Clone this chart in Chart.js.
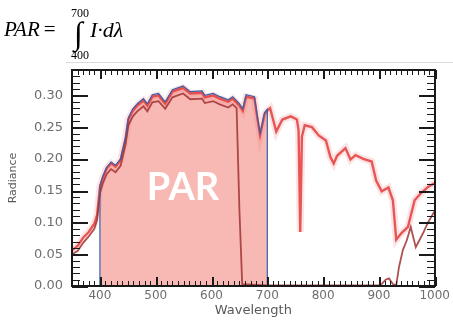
<!DOCTYPE html>
<html>
<head>
<meta charset="utf-8">
<script src="https://cdn.jsdelivr.net/npm/chart.js@4"></script>
<style>
  body { margin: 0; background: #fff; }
  #wrap { position: relative; width: 453px; height: 324px; }
  canvas { position: absolute; left: 0; top: 0; }
  .f { position: absolute; font-family: "Liberation Serif", "Times New Roman", serif; color: #000; line-height: 1; white-space: nowrap; }
  .it { font-style: italic; }
  .edge { position: absolute; left: 66px; top: 62px; width: 387px; height: 1px; background: #dcdcdc; }
</style>
</head>
<body>
<div id="wrap">
  <canvas id="parChart" width="453" height="324"></canvas>
  <div class="edge"></div>
  <div class="f it" style="left:4px; top:19px; font-size:21px;">PAR<span style="font-style:normal; margin-left:4px">=</span></div>
  <div class="f" style="left:71px; top:7px; font-size:12px;">700</div>
  <div class="f" style="left:74px; top:17px; font-size:32px;">&#8747;</div>
  <div class="f" style="left:71px; top:49px; font-size:12px;">400</div>
  <div class="f it" style="left:90px; top:19px; font-size:22px;">I&middot;d&lambda;</div>
</div>
<script>
// tick labels
var xTicks = [400, 500, 600, 700, 800, 900, 1000];
var yTicks = [0.00, 0.05, 0.10, 0.15, 0.20, 0.25, 0.30];

// measured radiance (light red curve)
var mainNm = [350,360,370,380,390,395,400,405,412,420,428,437,446,451,459,467,478,485,494,505,517,530,549,562,583,588,603,615,630,638,650,656,662,677,682,687,695,700,705,716,727,742,753,756,759,762,767,780,792,805,813,819,825,840,849,858,872,887,895,905,917,925,931,940,952,964,975,988,1000];
var mainVal = [0.056,0.063,0.076,0.085,0.098,0.112,0.155,0.170,0.185,0.193,0.188,0.198,0.232,0.262,0.276,0.284,0.292,0.284,0.298,0.300,0.287,0.306,0.312,0.303,0.304,0.297,0.300,0.295,0.290,0.295,0.284,0.276,0.298,0.295,0.265,0.238,0.270,0.276,0.280,0.243,0.262,0.267,0.262,0.245,0.085,0.235,0.253,0.250,0.237,0.229,0.203,0.193,0.205,0.217,0.199,0.206,0.200,0.196,0.166,0.149,0.155,0.135,0.073,0.083,0.093,0.135,0.146,0.156,0.162];

// second (dark red) curve
var darkNm = [350,360,370,380,390,395,400,405,412,420,428,437,446,451,459,467,478,485,494,505,517,530,549,562,583,588,603,615,630,638,645,650,655,700,800,900,905,912,918,925,931,936,943,950,957,966,979,988,1000];
var darkVal = [0.050,0.055,0.068,0.078,0.090,0.104,0.146,0.161,0.176,0.184,0.179,0.189,0.223,0.253,0.267,0.275,0.283,0.275,0.289,0.291,0.279,0.297,0.303,0.294,0.295,0.288,0.291,0.286,0.281,0.286,0.280,0.120,0.003,0.001,0.001,0.001,0.003,0.010,0.012,0.003,0.001,0.030,0.057,0.072,0.093,0.061,0.083,0.100,0.118];

// PAR region outline 400-700 nm
var parNm = [400,400,405,412,420,428,437,446,451,459,467,478,485,494,505,517,530,549,562,583,588,603,615,630,638,650,656,662,677,682,687,695,700,700];
var parVal = [0,0.158,0.172,0.187,0.195,0.190,0.200,0.234,0.265,0.279,0.287,0.295,0.287,0.301,0.303,0.290,0.309,0.315,0.306,0.307,0.300,0.303,0.298,0.293,0.298,0.287,0.279,0.301,0.298,0.268,0.240,0.273,0.278,0];

function pts(xs, ys) {
    return xs.map(function (x, i) { return {x: x, y: ys[i]}; });
}

var parOutline = pts(parNm, parVal);
parOutline.push({x: 400, y: 0});

// frame, inward major/minor ticks on all four sides
var framePlugin = {
    id: 'frame',
    afterDatasetsDraw: function (chart) {
        var c = chart.ctx, a = chart.chartArea;
        var xs = chart.scales.x, ys = chart.scales.y;
        c.save();
        c.setLineDash([]);
        c.globalAlpha = 1;
        c.fillStyle = '#fff';
        c.font = 'bold 38px Lato, "Open Sans", sans-serif';
        c.textAlign = 'center';
        c.textBaseline = 'alphabetic';
        c.fillText('PAR', xs.getPixelForValue(549), ys.getPixelForValue(0.135));

        var L = Math.round(a.left), R = Math.round(a.right), T = Math.round(a.top), B = Math.round(a.bottom);
        c.fillStyle = '#1a1a1a';
        for (var w = 350; w <= 1000; w += 10) {
            var px = Math.round(xs.getPixelForValue(w));
            var major = (w % 100 === 0);
            var len = major ? 9 : 5;
            var tw = major ? 2 : 1;
            c.fillRect(px, B - len, tw, len);
            c.fillRect(px, T, tw, len);
        }
        for (var k = 0; k <= 34; k++) {
            var py = Math.round(ys.getPixelForValue(k / 100));
            var ymaj = (k % 5 === 0);
            var l2 = ymaj ? 16 : 8;
            var th = ymaj ? 2 : 1;
            c.fillRect(L, py, l2, th);
            c.fillRect(R - l2, py, l2, th);
        }
        c.fillRect(L - 1, T - 1, R - L + 2, 2);
        c.fillRect(L - 1, B - 1, R - L + 2, 2);
        c.fillRect(L - 1, T - 1, 2, B - T + 2);
        c.fillRect(R - 1, T - 1, 2, B - T + 2);
        c.restore();
    }
};

var ctx = document.getElementById('parChart').getContext('2d');
var parChart = new Chart(ctx, {
    type: 'line',
    data: {
        datasets: [{
            // blue outline of PAR area
            data: parOutline,
            borderColor: 'rgb(55,95,170)',
            borderWidth: 1.2,
            pointRadius: 0,
            fill: false,
            order: 0
        }, {
            data: pts(darkNm, darkVal),
            borderColor: 'rgba(160,50,50,0.85)',
            borderWidth: 1.8,
            pointRadius: 0,
            fill: false,
            order: 1
        }, {
            data: pts(mainNm, mainVal),
            borderColor: 'rgba(228,60,60,0.85)',
            borderWidth: 2.4,
            pointRadius: 0,
            fill: false,
            order: 2
        }, {
            // soft halo round the red curve
            data: pts(mainNm, mainVal),
            borderColor: 'rgba(240,120,120,0.2)',
            borderWidth: 7,
            pointRadius: 0,
            fill: false,
            order: 3
        }, {
            data: pts(parNm, parVal),
            borderWidth: 0,
            borderColor: 'rgba(0,0,0,0)',
            backgroundColor: '#f8b8b3',
            pointRadius: 0,
            fill: 'origin',
            order: 4
        }]
    },
    options: {
        responsive: false,
        animation: false,
        layout: { padding: { top: 70, right: 17, left: 0, bottom: 0 } },
        plugins: { legend: { display: false }, tooltip: { enabled: false } },
        scales: {
            x: {
                type: 'linear',
                min: 350, max: 1000,
                grid: { display: false, drawTicks: false },
                border: { display: false },
                afterBuildTicks: function (s) { s.ticks = xTicks.map(function (v) { return {value: v}; }); },
                afterFit: function (s) { s.height = 38; },
                ticks: {
                    padding: 3,
                    color: '#6e6e6e',
                    font: { family: 'DejaVu Sans', size: 12 },
                    maxRotation: 0,
                    callback: function (v) { return String(v); }
                },
                title: {
                    display: true,
                    text: 'Wavelength',
                    color: '#5a5a5a',
                    font: { family: 'DejaVu Sans', size: 13 },
                    padding: { top: 0, bottom: 6 }
                }
            },
            y: {
                min: 0, max: 0.34,
                grid: { display: false, drawTicks: false },
                border: { display: false },
                afterBuildTicks: function (s) { s.ticks = yTicks.map(function (v) { return {value: v}; }); },
                afterFit: function (s) { s.width = 72; },
                ticks: {
                    padding: 9,
                    color: '#6e6e6e',
                    font: { family: 'DejaVu Sans', size: 13 },
                    callback: function (v) { return v.toFixed(2); }
                },
                title: {
                    display: true,
                    text: 'Radiance',
                    color: '#5a5a5a',
                    font: { family: 'DejaVu Sans', size: 11 },
                    padding: { top: 7, bottom: 0 }
                }
            }
        }
    },
    plugins: [framePlugin]
});
</script>
</body>
</html>
